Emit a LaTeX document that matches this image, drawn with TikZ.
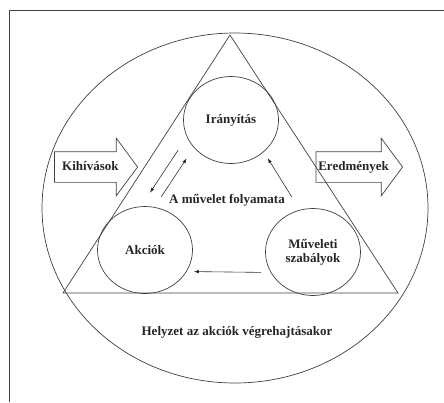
\documentclass[tikz,border=0pt]{standalone}
\usepackage{fontspec}
\setmainfont{Liberation Serif}
\usetikzlibrary{shapes.geometric,shapes.arrows,arrows.meta}

\begin{document}
\begin{tikzpicture}[
        x=1pt, y=-1pt,
        every node/.style={
                font=\fontsize{13}{14}\selectfont\bfseries,
                text=black!85
            },
        phase/.style={
                ellipse,
                draw=black!75,
                line width=0.7pt,
                minimum width=95pt,
                minimum height=87pt,
                inner sep=0pt,
                align=center
            },
        bigarrow/.style={
                single arrow,
                draw=black!75,
                line width=0.7pt,
                minimum height=83pt,
                text height=9pt,
                text depth=3pt,
                single arrow head extend=13.5pt,
                single arrow tip angle=107,
                inner xsep=2pt,
                inner ysep=9pt
            },
        flow/.style={
                -{Latex[length=5pt,width=3.5pt]},
                draw=black!80,
                line width=0.6pt
            },
        edge/.style = {draw=black!75, line width=0.7pt}
    ]
    \useasboundingbox (0,0) rectangle (444,402);
    \draw[edge] (444,10) -- (9,10) -- (9,402);

    \node[ellipse, edge, minimum width=386pt, minimum height=350pt] (situation) at (235,208) {};

    \coordinate (apex)  at (230,35);
    \coordinate (left)  at (63,293);
    \coordinate (right) at (398,293);
    \draw[edge] (apex) -- (left) -- (right) -- cycle;

    \node[phase] (control) at (231,120) {Irányítás};
    \node[phase] (actions) at (145,250) {Akciók};
    \node[phase] (rules)   at (313,252) {Műveleti\\szabályok};

    \node (process)   at (227,200) {A művelet folyamata};
    \node (situlabel) at (237,332) {Helyzet az akciók végrehajtásakor};

    \node[bigarrow, anchor=tip] (challenges) at (138,167) {Kihívások};
    \node[bigarrow, anchor=tip] (results)    at (403,167) {Eredmények};

    \path[flow, shorten <=7.5pt, shorten >=7.5pt, transform canvas={shift={(-24,-13.5)}}] (control) edge (actions);
    \path[flow, shorten <=10pt, shorten >=10pt, transform canvas={shift={(-14,-7.5)}}] (actions) edge (control);
    \path[flow, shorten <=10pt, shorten >=10pt, transform canvas={shift={(7.7,-8.5)}}] (rules) edge (control);
    \path[flow, shorten <=4pt, shorten >=1pt, transform canvas={shift={(0,21)}}] (rules) edge (actions);
\end{tikzpicture}
\end{document}
